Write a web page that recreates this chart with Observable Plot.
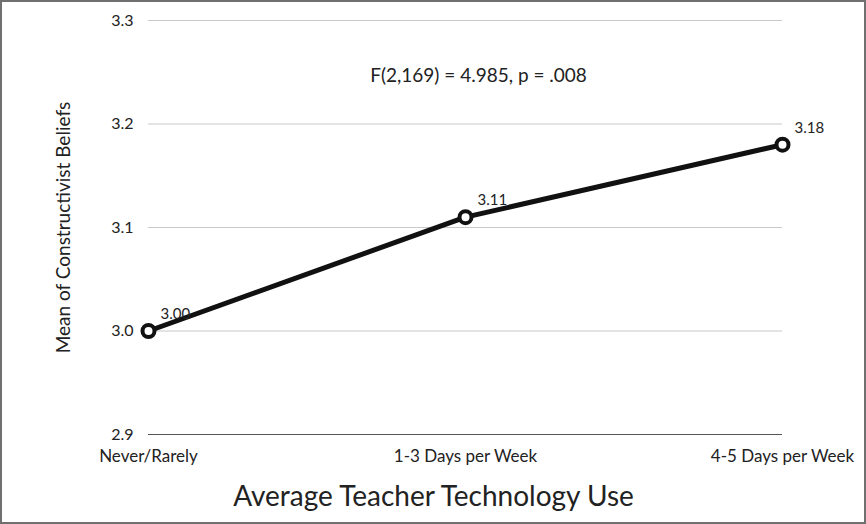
<!DOCTYPE html>
<html>
<head>
<meta charset="utf-8">
<script src="https://cdn.jsdelivr.net/npm/d3@7"></script>
<script src="https://cdn.jsdelivr.net/npm/@observablehq/plot@0.6"></script>
<style>
  html, body { margin: 0; padding: 0; background: #fff; }
  #chart svg { display: block; outline: 2px solid #707070; outline-offset: -2px; }
</style>
</head>
<body>
<div id="chart"></div>
<script>
const categories = ["Never/Rarely", "1-3 Days per Week", "4-5 Days per Week"];
const means = [3.00, 3.11, 3.18];
const meanLabels = ["3.00", "3.11", "3.18"];
const yTicks = [2.9, 3.0, 3.1, 3.2, 3.3];
const gridTicks = [3.0, 3.1, 3.2, 3.3];
const xTitle = "Average Teacher Technology Use";
const yTitle = "Mean of Constructivist Beliefs";
const annotation = "F(2,169) = 4.985, p = .008";

const data = categories.map((c, i) => ({cat: c, mean: means[i], label: meanLabels[i]}));
const font = "Lato, 'Open Sans', sans-serif";

const chart = Plot.plot({
  width: 866,
  height: 524,
  marginLeft: 148,
  marginRight: 84,
  marginTop: 20,
  marginBottom: 90,
  style: {fontFamily: font, color: "#222", background: "#fff"},
  x: {type: "point", domain: categories, padding: 0},
  y: {domain: [2.9, 3.3]},
  marks: [
    Plot.gridY(gridTicks, {stroke: "#c8c8c8", strokeOpacity: 1, strokeWidth: 1}),
    Plot.ruleY([2.9], {stroke: "#555", strokeWidth: 1.2}),
    Plot.axisY(yTicks, {tickSize: 0, tickPadding: 15, tickFormat: d3.format(".1f"), fontSize: 16, label: null}),
    Plot.axisX({tickSize: 0, tickPadding: 15, fontSize: 17, label: null}),
    Plot.line(data, {x: "cat", y: "mean", stroke: "#111", strokeWidth: 5}),
    Plot.dot(data, {x: "cat", y: "mean", r: 6, fill: "#fff", stroke: "#111", strokeWidth: 4}),
    Plot.text(data, {x: "cat", y: "mean", text: "label", textAnchor: "start", dx: 12, dy: -17, fontSize: 15, fill: "#222"}),
    Plot.text([annotation], {frameAnchor: "top", textAnchor: "middle", lineAnchor: "middle", dx: 13, dy: 55, fontSize: 19, fill: "#222"}),
    Plot.text([xTitle], {frameAnchor: "bottom", textAnchor: "middle", lineAnchor: "middle", dx: -32, dy: 63, fontSize: 28, fill: "#222"}),
    Plot.text([yTitle], {frameAnchor: "left", textAnchor: "middle", lineAnchor: "middle", dx: -85, rotate: -90, fontSize: 19, fill: "#222"})
  ]
});
document.getElementById("chart").append(chart);
</script>
</body>
</html>
